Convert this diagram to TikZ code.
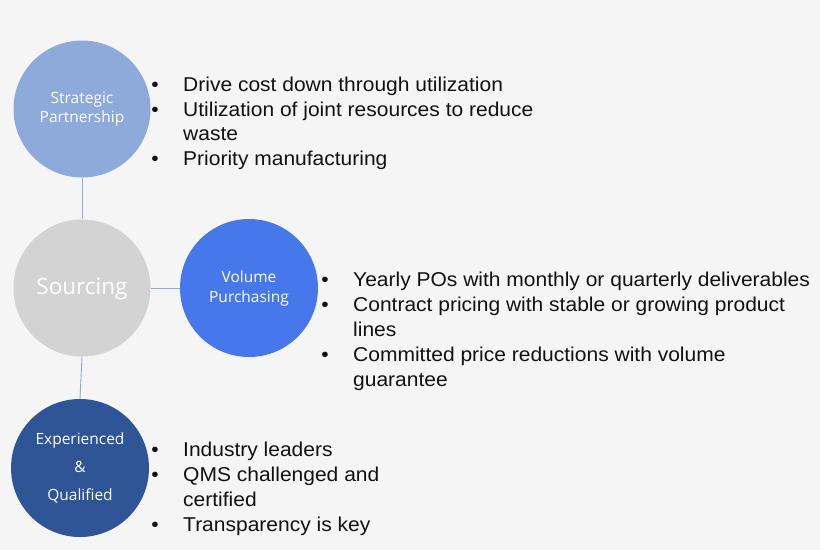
\documentclass[tikz,border=0pt]{standalone}
\usepackage{fontspec}
\setmainfont{Liberation Sans}
\newfontfamily\bodyfont[FakeStretch=1.05]{Liberation Sans}
\newfontfamily\circfont{Open Sans}
\definecolor{bgc}{HTML}{F5F5F5}
\definecolor{stratc}{HTML}{8EAADB}
\definecolor{srcc}{HTML}{D3D3D3}
\definecolor{volc}{HTML}{4678EB}
\definecolor{expc}{HTML}{2F5597}
\definecolor{linec}{HTML}{8FAADC}
\definecolor{txtc}{HTML}{111111}
\begin{document}
\begin{tikzpicture}[x=1pt,y=-1pt,
  circ/.style={circle,inner sep=0pt,text=white,align=center,font=\circfont\fontsize{15.5}{19}\selectfont},
  conn/.style={draw=linec,line width=0.9pt},
  txt/.style={anchor=base west,inner sep=0pt,text=txtc,font=\bodyfont\fontsize{20}{24}\selectfont},
  bul/.style={anchor=base,inner sep=0pt,text=txtc,font=\bodyfont\fontsize{20}{24}\selectfont}]
\fill[bgc] (0,0) rectangle (820,550);
\useasboundingbox (0,0) rectangle (820,550);
% circles
\node[circ,fill=stratc,minimum size=137pt] (strat) at (82,109) {Strategic\\Partnership};
\node[circ,fill=srcc,minimum size=137pt,font=\circfont\fontsize{22.5}{26}\selectfont] (src) at (82,288) {\raisebox{-6pt}[0pt][0pt]{Sourcing}};
\node[circ,fill=volc,minimum size=138pt,font=\circfont\fontsize{15.5}{20}\selectfont] (vol) at (249,288) {Volume\\Purchasing};
\node[circ,fill=expc,minimum size=138pt,font=\circfont\fontsize{15.5}{28}\selectfont] (exp) at (80,468) {Experienced\\\&\\Qualified};
% connectors
\draw[conn] (strat.south) -- (src.north);
\draw[conn] (src.east) -- (vol.west);
\draw[conn] (src.south) -- (exp.north);
% block 1
\node[bul] (b1a) at (155,91.5) {•};
\node[txt] (t1a) at (183,91.5) {Drive cost down through utilization};
\node[bul] (b1b) at (155,116) {•};
\node[txt] (t1b) at (183,116) {Utilization of joint resources to reduce};
\node[txt] (t1c) at (183,140.5) {waste};
\node[bul] (b1d) at (155,165) {•};
\node[txt] (t1d) at (183,165) {Priority manufacturing};
% block 2
\node[bul] (b2a) at (325,286.7) {•};
\node[txt] (t2a) at (353,286.7) {Yearly POs with monthly or quarterly deliverables};
\node[bul] (b2b) at (325,311.7) {•};
\node[txt] (t2b) at (353,311.7) {Contract pricing with stable or growing product};
\node[txt] (t2c) at (353,336.7) {lines};
\node[bul] (b2d) at (325,361.7) {•};
\node[txt] (t2d) at (353,361.7) {Committed price reductions with volume};
\node[txt] (t2e) at (353,386) {guarantee};
% block 3
\node[bul] (b3a) at (155,456.7) {•};
\node[txt] (t3a) at (183,456.7) {Industry leaders};
\node[bul] (b3b) at (155,481.7) {•};
\node[txt] (t3b) at (183,481.7) {QMS challenged and};
\node[txt] (t3c) at (183,506.7) {certified};
\node[bul] (b3d) at (155,531.7) {•};
\node[txt] (t3d) at (183,531.7) {Transparency is key};
\end{tikzpicture}
\end{document}
